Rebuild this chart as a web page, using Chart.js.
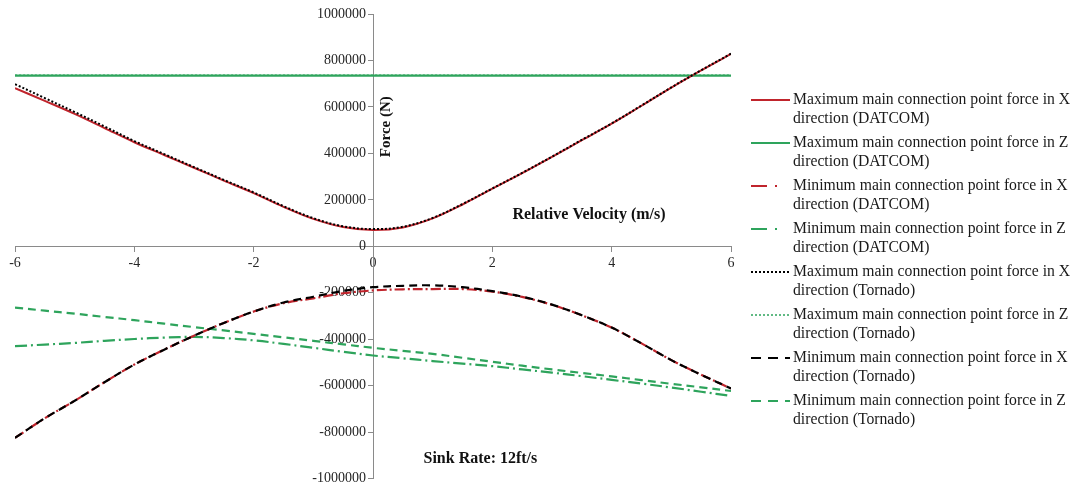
<!DOCTYPE html>
<html>
<head>
<meta charset="utf-8">
<script src="https://cdn.jsdelivr.net/npm/chart.js@4/dist/chart.umd.min.js"></script>
<style>
  html, body { margin: 0; padding: 0; background: #ffffff; }
  #wrap { width: 1084px; height: 490px; }
</style>
</head>
<body>
<div id="wrap"><canvas id="c" width="1084" height="490"></canvas></div>
<script>
// Relative velocity (m/s)
const velocity = [-6, -5.5, -5, -4.5, -4, -3.5, -3, -2.5, -2, -1.5, -1, -0.5, 0,
                  0.5, 1, 1.5, 2, 2.5, 3, 3.5, 4, 4.5, 5, 5.5, 6];

// Main connection point forces (N)
const maxXDatcom = [681000, 626000, 570000, 509000, 448000, 393000, 338000, 283000, 229000, 170000, 118000, 83000, 70000,
                    81000, 120000, 180000, 248000, 315000, 385000, 457000, 528000, 605000, 683000, 757000, 828000];
const maxZDatcom = [735000, 735000, 735000, 735000, 735000, 735000, 735000, 735000, 735000, 735000, 735000, 735000, 735000,
                    735000, 735000, 735000, 735000, 735000, 735000, 735000, 735000, 735000, 735000, 735000, 735000];
const minXDatcom = [-825000, -740000, -665000, -585000, -509000, -445000, -385000, -330000, -281000, -245000, -224000, -202000, -190000,
                    -185000, -184000, -184000, -195000, -218000, -252000, -297000, -350000, -418000, -490000, -553000, -612000];
const minZDatcom = [-430000, -423000, -416000, -407000, -399000, -393000, -390000, -395000, -405000, -420000, -437000, -454000, -470000,
                    -482000, -494000, -505000, -516000, -530000, -544000, -559000, -575000, -591000, -608000, -626000, -644000];
const maxXTornado = [698000, 638000, 578000, 516000, 453000, 397000, 341000, 286000, 232000, 173000, 121000, 86000, 74000,
                     84000, 122000, 182000, 249000, 316000, 386000, 458000, 529000, 606000, 684000, 758000, 829000];
const maxZTornado = [736000, 736000, 736000, 736000, 736000, 736000, 736000, 736000, 736000, 736000, 736000, 736000, 736000,
                     736000, 736000, 736000, 736000, 736000, 736000, 736000, 736000, 736000, 736000, 736000, 736000];
const minXTornado = [-825000, -740000, -665000, -585000, -509000, -445000, -385000, -330000, -281000, -242000, -217000, -192000, -176000,
                     -170000, -168000, -176000, -193000, -217000, -251000, -297000, -350000, -418000, -490000, -553000, -612000];
const minZTornado = [-264000, -277000, -290000, -304000, -318000, -333000, -348000, -362000, -377000, -392000, -407000, -422000, -437000,
                     -450000, -463000, -480000, -497000, -514000, -530000, -545000, -560000, -576000, -592000, -607000, -623000];

const seriesLabels = [
  'Maximum main connection point force in X direction (DATCOM)',
  'Maximum main connection point force in Z direction (DATCOM)',
  'Minimum main connection point force in X direction (DATCOM)',
  'Minimum main connection point force in Z direction (DATCOM)',
  'Maximum main connection point force in X direction (Tornado)',
  'Maximum main connection point force in Z direction (Tornado)',
  'Minimum main connection point force in X direction (Tornado)',
  'Minimum main connection point force in Z direction (Tornado)'
];

const xTicks = [-6, -4, -2, 0, 2, 4, 6];
const yTicks = [-1000000, -800000, -600000, -400000, -200000, 0, 200000, 400000, 600000, 800000, 1000000];

const axisTitleY = 'Force (N)';
const axisTitleX = 'Relative Velocity (m/s)';
const noteText = 'Sink Rate: 12ft/s';

const RED = '#c0242c';
const GREEN = '#2ea45c';
const BLACK = '#000000';
const SERIF = "'Liberation Serif', 'Times New Roman', serif";

function pts(values) {
  return velocity.map((x, i) => ({ x: x, y: values[i] }));
}

function series(label, values, color, dash, keyDash, width, order) {
  return {
    label: label,
    data: pts(values),
    borderColor: color,
    backgroundColor: color,
    borderWidth: width,
    borderDash: dash,
    keyDash: keyDash,
    pointRadius: 0,
    fill: false,
    tension: 0.35,
    order: order
  };
}

const datasets = [
  series(seriesLabels[0], maxXDatcom, RED, [], [], 2, 2),
  series(seriesLabels[1], maxZDatcom, GREEN, [], [], 2.2, 2),
  series(seriesLabels[2], minXDatcom, RED, [10, 3, 2, 3], [16, 8, 2, 30], 2.2, 2),
  series(seriesLabels[3], minZDatcom, GREEN, [12, 4, 2, 4], [16, 8, 2, 30], 2.2, 2),
  series(seriesLabels[4], maxXTornado, BLACK, [2, 2], [2, 2], 2, 1),
  series(seriesLabels[5], maxZTornado, GREEN, [2, 2], [2, 2], 1.5, 1),
  series(seriesLabels[6], minXTornado, BLACK, [8, 5], [10, 7], 2.2, 1),
  series(seriesLabels[7], minZTornado, GREEN, [8, 5], [10, 7], 2.2, 1)
];

// Annotation texts and the two-line legend on the right
const extrasPlugin = {
  id: 'extras',
  afterDraw(chart) {
    const ctx = chart.ctx;
    const xs = chart.scales.x, ys = chart.scales.y;
    ctx.save();
    ctx.fillStyle = '#111111';
    ctx.font = 'bold 15px ' + SERIF;
    ctx.textAlign = 'center';
    ctx.textBaseline = 'middle';
    // vertical title beside the y axis
    ctx.save();
    ctx.translate(xs.getPixelForValue(0) + 13, ys.getPixelForValue(515000));
    ctx.rotate(-Math.PI / 2);
    ctx.fillText(axisTitleY, 0, 0);
    ctx.restore();
    ctx.font = 'bold 16px ' + SERIF;
    ctx.fillText(axisTitleX, xs.getPixelForValue(3.62), ys.getPixelForValue(137000));
    ctx.fillText(noteText, xs.getPixelForValue(1.8), ys.getPixelForValue(-914000));

    // legend
    const lx0 = 751, lx1 = 790, tx = 793, top = 100, step = 43, lineGap = 18.5;
    ctx.textAlign = 'left';
    ctx.font = '15.7px ' + SERIF;
    chart.data.datasets.forEach((ds, i) => {
      const y = top + step * i;
      ctx.save();
      ctx.strokeStyle = ds.borderColor;
      ctx.lineWidth = ds.borderWidth;
      ctx.setLineDash(ds.keyDash || []);
      ctx.beginPath();
      ctx.moveTo(lx0, y);
      ctx.lineTo(lx1, y);
      ctx.stroke();
      ctx.restore();
      const cut = ds.label.indexOf(' direction');
      const l1 = ds.label.slice(0, cut);
      const l2 = ds.label.slice(cut + 1);
      ctx.fillStyle = '#1a1a1a';
      ctx.fillText(l1, tx, y);
      ctx.fillText(l2, tx, y + lineGap);
    });
    ctx.restore();
  }
};

const tickFont = { family: SERIF, size: 14 };

new Chart(document.getElementById('c'), {
  type: 'line',
  data: { datasets: datasets },
  options: {
    responsive: false,
    animation: false,
    layout: { padding: { left: 15, right: 353, top: 14, bottom: 10 } },
    plugins: { legend: { display: false }, tooltip: { enabled: false } },
    elements: { point: { radius: 0 } },
    scales: {
      x: {
        type: 'linear',
        min: -6, max: 6,
        position: { y: 0 },
        afterBuildTicks: (axis) => { axis.ticks = xTicks.map(v => ({ value: v })); },
        grid: { drawOnChartArea: false, drawTicks: true, tickLength: 5, color: '#8a8a8a' },
        border: { display: true, color: '#8a8a8a', width: 1 },
        ticks: { font: tickFont, color: '#262626', padding: 4, maxRotation: 0, autoSkip: false,
                 callback: (v) => String(v) }
      },
      y: {
        type: 'linear',
        min: -1000000, max: 1000000,
        position: { x: 0 },
        afterBuildTicks: (axis) => { axis.ticks = yTicks.map(v => ({ value: v })); },
        grid: { drawOnChartArea: false, drawTicks: true, tickLength: 5, color: '#8a8a8a' },
        border: { display: true, color: '#8a8a8a', width: 1 },
        // labels sit left of the tick marks (en space keeps them clear of the axis)
        ticks: { font: tickFont, color: '#262626', padding: 3, autoSkip: false,
                 callback: (v) => String(v) + '\u2002' }
      }
    }
  },
  plugins: [extrasPlugin]
});
</script>
</body>
</html>
